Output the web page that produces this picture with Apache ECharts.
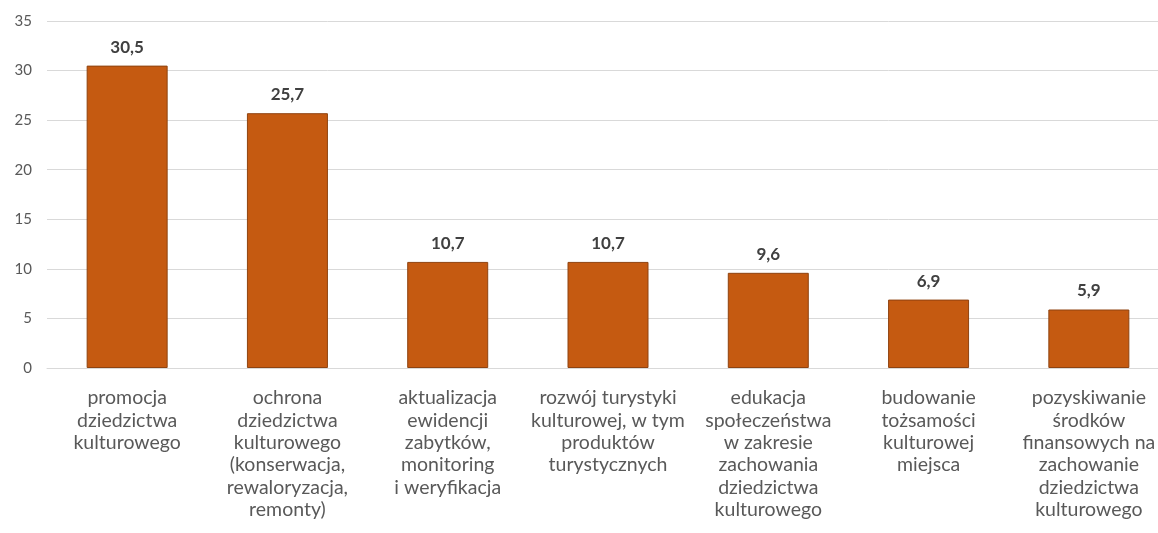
<!DOCTYPE html>
<html>
<head>
<meta charset="utf-8">
<style>
  html, body { margin: 0; padding: 0; background: #ffffff; overflow: hidden; }
  /* płótno nieco szersze od okna: prawa krawędź siatki wychodzi poza kadr */
  #chart { width: 1169px; height: 533px; }
</style>
<script src="https://cdn.jsdelivr.net/npm/echarts@6/dist/echarts.min.js"></script>
</head>
<body>
<div id="chart"></div>
<script>
// Kategorie działań (etykiety osi X, z podziałem na wiersze)
const categories = [
  'promocja\ndziedzictwa\nkulturowego',
  'ochrona\ndziedzictwa\nkulturowego\n(konserwacja,\nrewaloryzacja,\nremonty)',
  'aktualizacja\newidencji\nzabytków,\nmonitoring\ni weryfikacja',
  'rozwój turystyki\nkulturowej, w tym\nproduktów\nturystycznych',
  'edukacja\nspołeczeństwa\nw zakresie\nzachowania\ndziedzictwa\nkulturowego',
  'budowanie\ntożsamości\nkulturowej\nmiejsca',
  'pozyskiwanie\nśrodków\nfinansowych na\nzachowanie\ndziedzictwa\nkulturowego'
];

// Odsetek wskazań (%)
const values = [30.5, 25.7, 10.7, 10.7, 9.6, 6.9, 5.9];

// Zakres osi Y
const yMin = 0;
const yMax = 35;
const yStep = 5;

const FONT = 'Lato, "Open Sans", sans-serif';

const chart = echarts.init(document.getElementById('chart'), null, { renderer: 'canvas' });

chart.setOption({
  backgroundColor: '#ffffff',
  animation: false,
  grid: { left: 47, top: 21, right: 0, bottom: 165, containLabel: false },
  xAxis: {
    type: 'category',
    data: categories,
    axisLine: { show: true, lineStyle: { color: '#d9d9d9', width: 1 } },
    axisTick: { show: false },
    axisLabel: {
      interval: 0,
      color: '#595959',
      fontFamily: FONT,
      fontSize: 19.5,
      lineHeight: 22.3,
      margin: 19,
      verticalAlign: 'top'
    }
  },
  yAxis: {
    type: 'value',
    min: yMin,
    max: yMax,
    interval: yStep,
    axisLine: { show: false },
    axisTick: { show: false },
    splitLine: { lineStyle: { color: '#d9d9d9', width: 1 } },
    axisLabel: {
      color: '#595959',
      fontFamily: FONT,
      fontSize: 15,
      margin: 15
    }
  },
  series: [{
    type: 'bar',
    data: values,
    barWidth: 81,
    itemStyle: {
      color: '#c55a11',
      borderColor: '#8f4310',
      borderWidth: 1
    },
    label: {
      show: true,
      position: 'top',
      distance: 10,
      color: '#404040',
      fontFamily: FONT,
      fontSize: 17,
      fontWeight: 'bold',
      formatter: p => String(p.value).replace('.', ',')
    }
  }]
});
</script>
</body>
</html>
